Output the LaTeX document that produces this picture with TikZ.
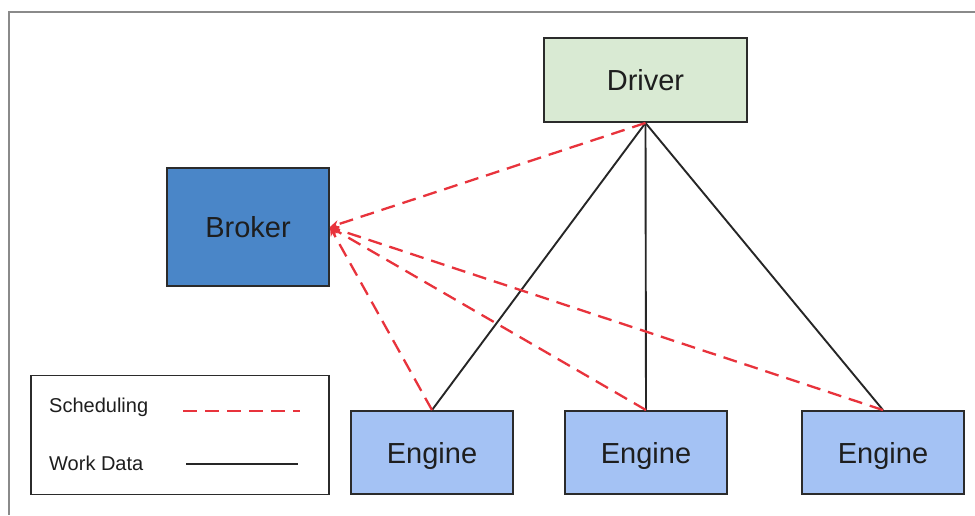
\documentclass[tikz,border=0pt]{standalone}
\usepackage{fontspec}
\setmainfont{Liberation Sans}
\usetikzlibrary{arrows.meta}
\definecolor{framegray}{HTML}{8A8A8A}
\definecolor{boxline}{HTML}{2B2B2B}
\definecolor{driverfill}{HTML}{D9EAD3}
\definecolor{brokerfill}{HTML}{4A86C8}
\definecolor{enginefill}{HTML}{A4C2F4}
\definecolor{schedred}{HTML}{E8333C}
\definecolor{textdark}{HTML}{1E1E1E}
\tikzset{
  box/.style={draw=boxline, line width=1.9pt, text=textdark, inner sep=0pt,
              text depth=0pt, font=\fontsize{29}{34}\selectfont},
  enginebox/.style={box, fill=enginefill, minimum width=162pt, minimum height=83pt},
  sched/.style={draw=schedred, line width=2.3pt, dash pattern=on 14pt off 8pt},
  work/.style={draw=black!85, line width=1.9pt},
  legendtext/.style={anchor=west, inner sep=0pt, text=textdark,
              font=\fontsize{20}{24}\selectfont}
}
\begin{document}
\begin{tikzpicture}[x=1pt, y=-1pt]
  \useasboundingbox (0,0) rectangle (975,515);
  % outer frame (top and left edges)
  \draw[framegray, line width=2.2pt] (975,12) -- (9,12) -- (9,515);

  % components
  \node[box, fill=driverfill, minimum width=203pt, minimum height=84pt] (drv) at (645.5,80) {Driver};
  \node[box, fill=brokerfill, minimum width=162pt, minimum height=118pt] (brk) at (248,227) {Broker};
  \node[enginebox] (e1) at (432,452.5) {Engine};
  \node[enginebox] (e2) at (646,452.5) {Engine};
  \node[enginebox] (e3) at (883,452.5) {Engine};

  % work data links
  \draw[work] (drv.south) -- (e1.north);
  \draw[work] (drv.south) -- (e2.north);
  \draw[work] (drv.south) -- (e3.north);

  % scheduling links towards the broker
  \foreach \src in {drv.south, e1.north, e2.north, e3.north}
    \draw[sched, -{Stealth[length=9pt, width=8pt]}] (\src) -- (brk.east);

  % legend
  \node[draw=boxline, line width=1.6pt, fill=white, minimum width=298pt, minimum height=119pt] (leg) at (180,435) {};
  \node[legendtext] (lsched) at (49,407) {Scheduling};
  \node[legendtext] (lwork) at (49,463) {Work Data};
  \coordinate (ls1) at (183,411);
  \coordinate (ls2) at (300,411);
  \coordinate (lw1) at (186,464);
  \coordinate (lw2) at (298,464);
  \draw[sched] (ls1) -- (ls2);
  \draw[work] (lw1) -- (lw2);
\end{tikzpicture}
\end{document}
